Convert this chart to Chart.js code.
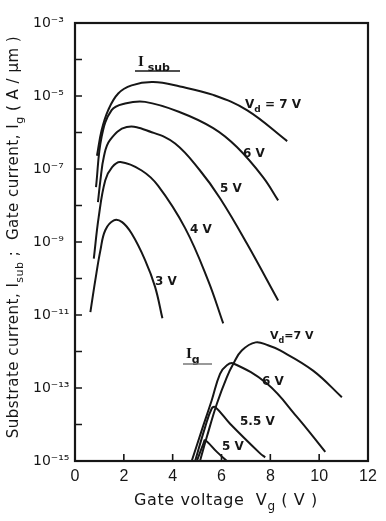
<!DOCTYPE html>
<html><head><meta charset="utf-8">
<script src="https://cdn.jsdelivr.net/npm/chart.js@4.4.1/dist/chart.umd.min.js"></script>
<style>html,body{margin:0;padding:0;background:#fff;}#wrap{width:386px;height:521px;}</style>
</head><body><div id="wrap"><canvas id="c" width="386" height="521"></canvas></div>
<script>
// ---- axis ticks ----
const xTickValues = [0, 2, 4, 6, 8, 10, 12];
const yTickValues = [1e-15, 1e-14, 1e-13, 1e-12, 1e-11, 1e-10, 1e-9, 1e-8, 1e-7, 1e-6, 1e-5, 1e-4, 1e-3];
const yTickLabels = ['10⁻¹⁵', '', '10⁻¹³', '', '10⁻¹¹', '', '10⁻⁹', '', '10⁻⁷', '', '10⁻⁵', '', '10⁻³'];

// ---- substrate current I_sub (A/µm) vs gate voltage (V) ----
const isub7V_Vg = [0.90, 1.09, 1.36, 1.77, 2.32, 3.2, 4.3, 5.66, 7.04, 8.69];
const isub7V_I  = [2.3e-7, 1.15e-6, 4.1e-6, 1.17e-5, 1.95e-5, 2.4e-5, 1.82e-5, 1.07e-5, 4.1e-6, 5.8e-7];
const isub6V_Vg = [0.86, 1.09, 1.50, 2.05, 2.87, 4.30, 5.66, 6.63, 7.70, 8.32];
const isub6V_I  = [3.2e-8, 7.6e-7, 4.1e-6, 6.2e-6, 6.9e-6, 3.6e-6, 1.32e-6, 4.0e-7, 6.0e-8, 1.38e-8];
const isub5V_Vg = [0.94, 1.04, 1.18, 1.43, 2.12, 3.14, 4.10, 5.12, 5.94, 7.04, 8.32];
const isub5V_I  = [1.23e-8, 4.9e-8, 2.14e-7, 6.2e-7, 1.41e-6, 1.02e-6, 5.0e-7, 9.1e-8, 1.58e-8, 9.1e-10, 2.5e-11];
const isub4V_Vg = [0.77, 0.97, 1.24, 1.52, 1.86, 2.73, 3.40, 4.51, 5.45, 6.07];
const isub4V_I  = [3.5e-10, 4.8e-9, 4.9e-8, 1.12e-7, 1.55e-7, 9.1e-8, 3.5e-8, 2.4e-9, 8.9e-11, 5.9e-12];
const isub3V_Vg = [0.63, 0.83, 1.04, 1.24, 1.59, 1.93, 2.32, 2.87, 3.28, 3.58];
const isub3V_I  = [1.2e-11, 8.9e-11, 5.9e-10, 2.1e-9, 3.9e-9, 3.5e-9, 1.7e-9, 3.2e-10, 5.9e-11, 8.1e-12];

// ---- gate current I_g (A/µm) vs gate voltage (V) ----
const ig7V_Vg = [5.12, 5.40, 5.81, 6.22, 6.49, 6.83, 7.4, 7.9, 8.40, 9.75, 10.93];
const ig7V_I  = [1.0e-15, 4.6e-15, 3.7e-14, 2.0e-13, 4.7e-13, 1.07e-12, 1.78e-12, 1.48e-12, 1.07e-12, 3.0e-13, 5.6e-14];
const ig6V_Vg = [4.78, 5.19, 5.60, 5.94, 6.22, 6.49, 7.86, 9.09, 10.25];
const ig6V_I  = [1.0e-15, 6.9e-15, 4.6e-14, 2.45e-13, 4.2e-13, 4.7e-13, 1.32e-13, 1.62e-14, 1.78e-15];
const ig55V_Vg = [4.92, 5.33, 5.60, 5.74, 6.35, 7.58, 7.79];
const ig55V_I  = [1.0e-15, 8.5e-15, 2.75e-14, 3.0e-14, 1.05e-14, 1.62e-15, 1.26e-15];
const ig5V_Vg = [4.99, 5.26, 5.33, 5.81, 6.22];
const ig5V_I  = [1.0e-15, 3.0e-15, 3.7e-15, 1.78e-15, 1.0e-15];

const curves = [
  [isub7V_Vg, isub7V_I], [isub6V_Vg, isub6V_I], [isub5V_Vg, isub5V_I], [isub4V_Vg, isub4V_I], [isub3V_Vg, isub3V_I],
  [ig7V_Vg, ig7V_I], [ig6V_Vg, ig6V_I], [ig55V_Vg, ig55V_I], [ig5V_Vg, ig5V_I]
];

const SANS = "'DejaVu Sans', sans-serif";
const INK = '#161616';

function drawRich(ctx, x, y, parts, size, opts) {
  opts = opts || {};
  const ls = opts.ls || 0;
  ctx.letterSpacing = ls + 'px';
  const w = opts.bold ? 'bold ' : '';
  const fontFor = m => w + (m === 'sub' ? Math.round(size * 0.72) : size) + 'px ' + (m === 'serif' ? "'Liberation Serif', serif" : SANS);
  const widths = parts.map(([t, m]) => { ctx.font = fontFor(m); return ctx.measureText(t).width; });
  const total = widths.reduce((a, b) => a + b, 0);
  let cx = opts.align === 'center' ? x - total / 2 : x;
  ctx.textAlign = 'left';
  ctx.textBaseline = 'alphabetic';
  parts.forEach(([t, m], i) => {
    ctx.font = fontFor(m);
    ctx.fillText(t, cx, y + (m === 'sub' ? size * 0.32 : 0));
    cx += widths[i];
  });
  ctx.letterSpacing = '0px';
  return total;
}

const decor = {
  id: 'decor',
  afterDraw(chart) {
    const ctx = chart.ctx, a = chart.chartArea;
    const xs = chart.scales.x, ys = chart.scales.y;
    ctx.save();
    ctx.strokeStyle = INK; ctx.fillStyle = INK;
    // frame
    ctx.lineWidth = 2.2;
    ctx.strokeRect(a.left, a.top, a.right - a.left, a.bottom - a.top);
    // inward tick marks
    ctx.lineWidth = 1.6;
    ctx.beginPath();
    yTickValues.forEach(v => {
      const py = ys.getPixelForValue(v);
      ctx.moveTo(a.left, py); ctx.lineTo(a.left + 7, py);
    });
    xTickValues.forEach(v => {
      const px = xs.getPixelForValue(v);
      ctx.moveTo(px, a.bottom); ctx.lineTo(px, a.bottom - 7);
    });
    ctx.stroke();

    // axis titles
    drawRich(ctx, 226, 505, [['Gate voltage  V'], ['g', 'sub'], [' ( V )']], 16, {align: 'center', ls: 0.6});
    ctx.save();
    ctx.translate(18, 237);
    ctx.rotate(-Math.PI / 2);
    drawRich(ctx, 0, 0, [['Substrate current, I'], ['sub', 'sub'], [' ;  Gate current, I'], ['g', 'sub'], [' ( A / μm )']], 15, {align: 'center', ls: 0.5});
    ctx.restore();

    // family labels
    drawRich(ctx, 138, 66, [['I', 'serif'], [' sub', 'sub']], 15, {bold: true});
    ctx.lineWidth = 1.5;
    ctx.beginPath(); ctx.moveTo(135, 71); ctx.lineTo(180, 71); ctx.stroke();
    drawRich(ctx, 186, 358, [['I', 'serif'], ['g', 'sub']], 15, {bold: true});
    ctx.strokeStyle = '#777';
    ctx.beginPath(); ctx.moveTo(183, 364); ctx.lineTo(212, 364); ctx.stroke();

    // curve labels (I_sub)
    const f = 12, b = {bold: true};
    drawRich(ctx, 245, 108, [['V'], ['d', 'sub'], [' = 7 V']], f, b);
    drawRich(ctx, 243, 157, [['6 V']], f, b);
    drawRich(ctx, 220, 192, [['5 V']], f, b);
    drawRich(ctx, 190, 233, [['4 V']], f, b);
    drawRich(ctx, 155, 285, [['3 V']], f, b);
    // curve labels (I_g)
    drawRich(ctx, 270, 339, [['V'], ['d', 'sub'], ['=7 V']], 11, b);
    drawRich(ctx, 262, 385, [['6 V']], f, b);
    drawRich(ctx, 240, 425, [['5.5 V']], f, b);
    drawRich(ctx, 222, 450, [['5 V']], f, b);
    ctx.restore();
  }
};

new Chart(document.getElementById('c'), {
  type: 'line',
  data: {
    datasets: curves.map(([vg, cur]) => ({
      data: vg.map((v, i) => ({x: v, y: cur[i]})),
      borderColor: INK, borderWidth: 2, pointRadius: 0,
      tension: 0.4, fill: false
    }))
  },
  options: {
    responsive: false, animation: false,
    layout: {padding: {left: 33, top: 23, right: 18, bottom: 0}},
    plugins: {legend: {display: false}, tooltip: {enabled: false}},
    scales: {
      x: {
        type: 'linear', min: 0, max: 12,
        afterBuildTicks: s => { s.ticks = xTickValues.map(v => ({value: v})); },
        afterFit: s => { s.height = 60; },
        ticks: {font: {family: "'Liberation Sans', sans-serif", size: 16}, color: INK, padding: 6, maxRotation: 0, autoSkip: false},
        grid: {display: false, drawTicks: false}, border: {display: false}
      },
      y: {
        type: 'logarithmic', min: 1e-15, max: 1e-3,
        afterBuildTicks: s => { s.ticks = yTickValues.map(v => ({value: v})); },
        afterFit: s => { s.width = 42; },
        ticks: {
          callback: v => { const i = yTickValues.findIndex(t => Math.abs(Math.log10(t) - Math.log10(v)) < 0.01); return i >= 0 ? yTickLabels[i] : ''; },
          font: {family: SANS, size: 14}, color: INK, crossAlign: 'far', autoSkip: false, padding: 4
        },
        grid: {display: false, drawTicks: false}, border: {display: false}
      }
    }
  },
  plugins: [decor]
});
</script>
</body></html>
